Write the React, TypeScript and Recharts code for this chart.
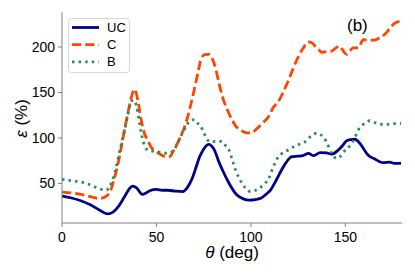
import { LineChart, Line, XAxis, YAxis, Legend } from 'recharts';

const FONT = '"Liberation Sans", Arial, sans-serif';
const SPINE = '#808080';

// theta (deg) and epsilon (%) for each case
const ucTheta = [0, 5, 10, 15, 20, 24, 27, 30, 33, 36, 37.5, 39.5, 42.5, 44.5, 46.5, 50, 53, 56, 60, 63.8, 66.5, 69, 71, 72.8, 74.5, 77.5, 80.5, 83, 85, 88.5, 92.5, 96, 99, 103, 105.5, 108, 110.5, 113, 115, 118, 121.7, 125, 127.5, 130.5, 133.2, 136.7, 140, 142.8, 146.3, 148.5, 150.7, 153, 155, 157.7, 160, 162, 165.6, 168, 170, 173.5, 176, 179.5];
const ucEps = [36, 34, 31, 26.5, 20.5, 16.5, 18.5, 25, 35, 45, 47, 45, 38, 39.5, 42, 43.5, 42.5, 42.5, 41.5, 41, 46, 56, 68, 79, 86, 93, 87.5, 74, 64.5, 50, 37.5, 33, 31.6, 32.5, 34, 38, 43, 52, 60, 71, 79.5, 80, 80.5, 83, 80.5, 83.8, 83.5, 82.3, 86.8, 91.5, 97, 98.2, 98.6, 94, 87, 81.2, 76.8, 74, 72.8, 73.5, 72, 72];

const cTheta = [0, 5, 10, 15, 20, 23.5, 25.5, 27.9, 30, 31.4, 33, 34.9, 36.5, 38.4, 40, 41.9, 43.5, 45.4, 47.5, 49.8, 52, 55, 57, 59, 62, 65.6, 67.5, 70, 72, 73.5, 75.5, 78, 79.6, 81.5, 83, 85, 87.5, 90, 92, 95, 98, 100.5, 103.3, 106, 109.5, 112, 114.7, 117, 120, 122.5, 125, 127.5, 130.5, 132, 134, 136, 137.5, 140, 142.8, 145, 147, 148.5, 150.7, 152.5, 154.2, 156.8, 159.5, 162, 165.6, 168, 170.9, 173, 176, 179.5];
const cEps = [40.5, 39.5, 38, 35.5, 33.4, 36, 41, 57, 75, 90, 108, 127.6, 143, 153.5, 143, 120, 106, 97, 89, 85, 82, 79.6, 79.5, 86, 98, 116.6, 131, 153, 172, 186, 191.5, 192, 187, 175, 161, 145, 131, 120, 113, 108, 105.5, 106, 110.5, 116, 124, 134, 140.5, 150, 164, 177, 189, 198, 205.5, 205, 201, 197, 194, 195, 195.6, 199, 201, 197, 192, 196, 199, 199, 208, 207.5, 207.7, 210, 214, 219, 226, 228.5];

const bTheta = [0, 5, 9.5, 15, 20, 23.5, 25, 28, 30.5, 33.2, 35, 36.7, 38, 39.5, 41.9, 44.6, 48, 52, 56, 58.5, 60.4, 62, 63.8, 65.5, 67.4, 70, 72, 73.5, 75, 77, 79, 81.4, 84.9, 86.5, 88.4, 90, 91.9, 93.5, 95.4, 97.5, 99.8, 102, 105, 107.5, 109.5, 111.2, 113.8, 116.5, 119.5, 122.6, 125, 127.9, 130.5, 133.2, 135, 136.7, 138.4, 140, 142.8, 145.4, 147, 149, 151, 153.3, 155, 156.8, 159, 161, 163, 165.5, 168.3, 170, 173.5, 177, 179.5];
const bEps = [54.5, 53, 51.8, 48.5, 44, 42.6, 46, 62, 85, 109, 127, 140.4, 141.5, 135, 106, 88, 85.5, 84.5, 83, 85, 90.7, 98, 105.5, 112, 118.3, 120.2, 116, 112.8, 106, 98, 95.5, 96.2, 96.2, 92, 86.8, 77, 64.7, 57, 50, 44, 41, 42, 45.5, 50, 55.5, 64.7, 77, 83, 86.5, 90.3, 92.6, 94.6, 99.5, 104.2, 105.4, 103.8, 101, 95.8, 83, 77.4, 79, 84.7, 88, 94, 100, 108.6, 114, 117, 119, 117, 115.3, 115, 114.9, 116, 116];

const xTicks = [0, 50, 100, 150];
const yTicks = [50, 100, 150, 200];

const toPoints = (theta: number[], eps: number[]) => theta.map((x, i) => ({ x, y: eps[i] }));

const series = [
  { name: 'UC', data: toPoints(ucTheta, ucEps), color: '#00008b', dash: undefined },
  { name: 'C', data: toPoints(cTheta, cEps), color: '#ff4500', dash: '9.25 4' },
  { name: 'B', data: toPoints(bTheta, bEps), color: '#2e8b57', dash: '2.5 4.1' },
];

const LegendBox = () => (
  <svg width={62} height={55} style={{ display: 'block' }}>
    <rect x={0.5} y={0.5} width={61} height={54} rx={3} fill="rgba(255,255,255,0.85)" stroke="#d6d6d6" />
    {series.map((s, i) => (
      <g key={s.name}>
        <line x1={4} x2={31} y1={9.5 + i * 17.2} y2={9.5 + i * 17.2} stroke={s.color} strokeWidth={2.8} strokeDasharray={s.dash} />
        <text x={39} y={9.5 + i * 17.2} dy="0.35em" fontSize={13} fontFamily={FONT} fill="#000">{s.name}</text>
      </g>
    ))}
  </svg>
);

const App = () => {
  return (
    <div style={{ position: 'absolute', left: 0, top: 0, background: '#fff' }}>
      <LineChart width={415} height={277} margin={{ top: 12, right: 13, bottom: 0, left: 0 }}>
        <XAxis
          dataKey="x"
          type="number"
          domain={[0, 180]}
          ticks={xTicks}
          height={54}
          tickSize={4}
          tickMargin={5}
          stroke={SPINE}
          tick={{ fontSize: 14, fontFamily: FONT, fill: '#000' }}
          label={({ viewBox }: any) => (
            <text x={viewBox.x + viewBox.width / 2} y={258} textAnchor="middle" fontSize={17} fontFamily={FONT} fill="#000">
              <tspan fontStyle="italic">θ</tspan> (deg)
            </text>
          )}
        />
        <XAxis xAxisId="top" orientation="top" type="number" domain={[0, 180]} height={0} tick={false} tickLine={false} stroke={SPINE} />
        <YAxis
          type="number"
          domain={[6.5, 238.5]}
          ticks={yTicks}
          width={62}
          tickSize={4}
          tickMargin={3}
          stroke={SPINE}
          tick={{ fontSize: 14, fontFamily: FONT, fill: '#000' }}
          label={({ viewBox }: any) => {
            const cy = viewBox.y + viewBox.height / 2 + 1;
            return (
              <text x={26.5} y={cy} textAnchor="middle" transform={`rotate(-90 26.5 ${cy})`} fontSize={17} fontFamily={FONT} fill="#000">
                <tspan fontStyle="italic">ε</tspan> (%)
              </text>
            );
          }}
        />
        <YAxis yAxisId="right" orientation="right" type="number" domain={[6.5, 238.5]} width={0} tick={false} tickLine={false} stroke={SPINE} />
        {series.map((s) => (
          <Line
            key={s.name}
            data={s.data}
            dataKey="y"
            name={s.name}
            type="monotone"
            stroke={s.color}
            strokeWidth={2.8}
            strokeDasharray={s.dash}
            dot={false}
            isAnimationActive={false}
          />
        ))}
        <Legend
          layout="horizontal"
          verticalAlign="middle"
          align="center"
          content={() => <LegendBox />}
          wrapperStyle={{ left: 68, top: 18, width: 62, height: 55 }}
        />
        <text x={347} y={31} fontSize={17} fontFamily={FONT} fill="#000">(b)</text>
      </LineChart>
    </div>
  );
};

export default App;
